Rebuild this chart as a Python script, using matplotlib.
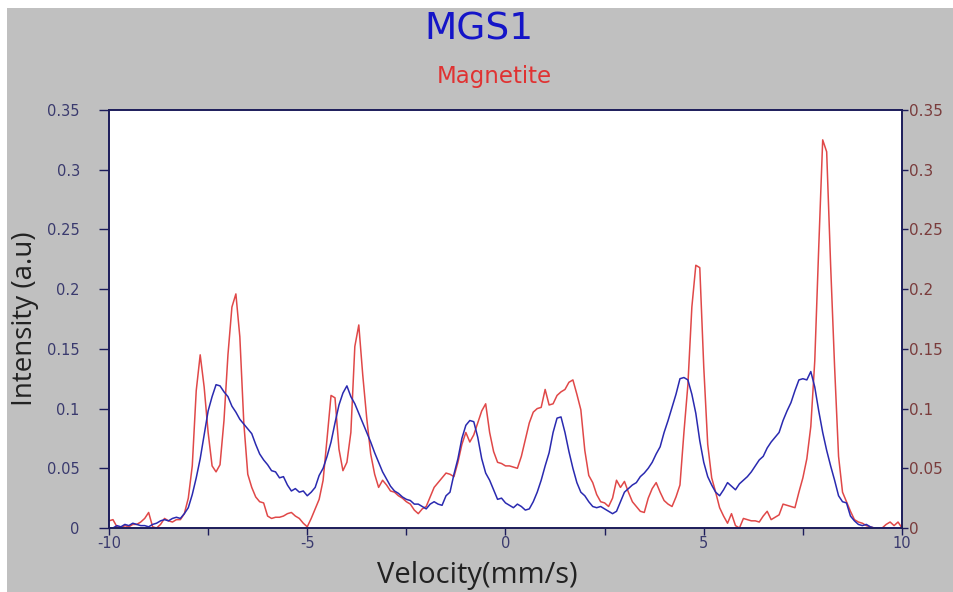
import numpy as np
import matplotlib
matplotlib.use("Agg")
import matplotlib.pyplot as plt
from matplotlib.patches import Rectangle
from matplotlib.ticker import MultipleLocator, FuncFormatter

# velocity grid, 0.1 mm/s steps from -10 to 10
velocity = np.round(np.arange(-10.0, 10.0001, 0.1), 1)

# red trace: Magnetite
magnetite = [
    0.006, 0.007, 0.001, 0.000, 0.002, 0.001, 0.003, 0.003, 0.005, 0.008,   # -10.0 .. -9.1
    0.013, 0.001, 0.000, 0.003, 0.008, 0.006, 0.005, 0.007, 0.007, 0.012,   # -9.0 .. -8.1
    0.025, 0.052, 0.115, 0.145, 0.118, 0.080, 0.052, 0.047, 0.053, 0.090,   # -8.0 .. -7.1
    0.145, 0.185, 0.196, 0.160, 0.088, 0.045, 0.034, 0.026, 0.022, 0.021,   # -7.0 .. -6.1
    0.010, 0.008, 0.009, 0.009, 0.010, 0.012, 0.013, 0.010, 0.008, 0.004,   # -6.0 .. -5.1
    0.001, 0.008, 0.016, 0.024, 0.040, 0.075, 0.111, 0.109, 0.066, 0.048,   # -5.0 .. -4.1
    0.055, 0.080, 0.152, 0.170, 0.128, 0.092, 0.062, 0.045, 0.034, 0.040,   # -4.0 .. -3.1
    0.036, 0.031, 0.030, 0.027, 0.025, 0.022, 0.020, 0.015, 0.012, 0.016,   # -3.0 .. -2.1
    0.018, 0.026, 0.034, 0.038, 0.042, 0.046, 0.045, 0.043, 0.055, 0.070,   # -2.0 .. -1.1
    0.080, 0.072, 0.078, 0.088, 0.098, 0.104, 0.080, 0.064, 0.055, 0.054,   # -1.0 .. -0.1
    0.052, 0.052, 0.051, 0.050, 0.060, 0.074, 0.088, 0.097, 0.100, 0.101,   # 0.0 .. 0.9
    0.116, 0.103, 0.104, 0.111, 0.114, 0.116, 0.122, 0.124, 0.112, 0.099,   # 1.0 .. 1.9
    0.065, 0.044, 0.038, 0.028, 0.022, 0.021, 0.018, 0.025, 0.040, 0.034,   # 2.0 .. 2.9
    0.039, 0.030, 0.022, 0.018, 0.014, 0.013, 0.025, 0.033, 0.038, 0.030,   # 3.0 .. 3.9
    0.023, 0.020, 0.018, 0.026, 0.036, 0.080, 0.120, 0.185, 0.220, 0.218,   # 4.0 .. 4.9
    0.135, 0.070, 0.042, 0.030, 0.017, 0.010, 0.004, 0.012, 0.002, 0.000,   # 5.0 .. 5.9
    0.008, 0.007, 0.006, 0.006, 0.005, 0.010, 0.014, 0.007, 0.009, 0.011,   # 6.0 .. 6.9
    0.020, 0.019, 0.018, 0.017, 0.030, 0.042, 0.058, 0.085, 0.140, 0.235,   # 7.0 .. 7.9
    0.325, 0.315, 0.220, 0.135, 0.060, 0.030, 0.022, 0.014, 0.007, 0.005,   # 8.0 .. 8.9
    0.004, 0.002, 0.001, 0.000, 0.000, 0.000, 0.003, 0.005, 0.002, 0.005,   # 9.0 .. 9.9
    0.000,                                                                  # 10.0
]

# blue trace: MGS1
mgs1 = [
    0.000, 0.000, 0.002, 0.001, 0.003, 0.002, 0.004, 0.003, 0.002, 0.002,
    0.001, 0.003, 0.004, 0.006, 0.007, 0.006, 0.008, 0.009, 0.008, 0.012,
    0.017, 0.028, 0.042, 0.058, 0.078, 0.098, 0.110, 0.120, 0.119, 0.114,
    0.110, 0.102, 0.097, 0.091, 0.087, 0.083, 0.079, 0.070, 0.062, 0.057,
    0.053, 0.048, 0.047, 0.042, 0.043, 0.036, 0.031, 0.033, 0.030, 0.031,
    0.027, 0.030, 0.034, 0.044, 0.050, 0.060, 0.072, 0.088, 0.103, 0.113,
    0.119, 0.110, 0.104, 0.096, 0.088, 0.080, 0.072, 0.063, 0.055, 0.047,
    0.041, 0.035, 0.031, 0.029, 0.026, 0.024, 0.023, 0.020, 0.020, 0.018,
    0.016, 0.020, 0.022, 0.020, 0.019, 0.027, 0.030, 0.045, 0.058, 0.075,
    0.086, 0.090, 0.089, 0.076, 0.058, 0.046, 0.040, 0.032, 0.024, 0.025,
    0.021, 0.019, 0.017, 0.020, 0.018, 0.015, 0.016, 0.022, 0.030, 0.040,
    0.052, 0.063, 0.080, 0.092, 0.093, 0.080, 0.064, 0.050, 0.038, 0.030,
    0.027, 0.022, 0.018, 0.017, 0.018, 0.016, 0.014, 0.012, 0.014, 0.022,
    0.030, 0.033, 0.036, 0.038, 0.043, 0.046, 0.050, 0.055, 0.062, 0.068,
    0.080, 0.090, 0.101, 0.112, 0.125, 0.126, 0.124, 0.112, 0.096, 0.073,
    0.055, 0.043, 0.036, 0.030, 0.027, 0.032, 0.038, 0.035, 0.032, 0.037,
    0.040, 0.043, 0.047, 0.052, 0.057, 0.060, 0.067, 0.072, 0.076, 0.080,
    0.090, 0.098, 0.105, 0.115, 0.124, 0.125, 0.124, 0.131, 0.118, 0.098,
    0.080, 0.065, 0.052, 0.040, 0.027, 0.022, 0.021, 0.010, 0.006, 0.003,
    0.002, 0.003, 0.001, 0.000, 0.000, 0.000, 0.000, 0.000, 0.000, 0.000,
    0.000,
]

y_ticks = [0, 0.05, 0.1, 0.15, 0.2, 0.25, 0.3, 0.35]
x_ticks = [-10, -5, 0, 5, 10]

axis_col = "#1c1c5a"
left_lab = "#3a3a6e"
right_lab = "#7a3c3c"
tick_font = "DejaVu Sans"

fig = plt.figure(figsize=(9.54, 5.92), dpi=100, facecolor="white")
fig.patches.append(Rectangle((7 / 954, 0), 1, 1 - 8 / 592, transform=fig.transFigure,
                             facecolor="#c0c0c0", edgecolor="none", zorder=-10))

ax = fig.add_axes([109 / 954, 64 / 592, 793 / 954, 418 / 592])
ax.set_facecolor("white")
ax.plot(velocity, mgs1, color="#2a2ab0", lw=1.1, zorder=3)
ax.plot(velocity, magnetite, color="#e04848", lw=1.1, zorder=2)

ax.set_xlim(-10, 10)
ax.set_ylim(0, 0.35)
ax.set_xticks(x_ticks)
ax.xaxis.set_minor_locator(MultipleLocator(2.5))
ax.xaxis.set_major_formatter(FuncFormatter(lambda v, p: f"{v:g}"))
ax.set_yticks(y_ticks)
fmt = FuncFormatter(lambda v, p: "0" if v == 0 else f"{v:g}")
ax.yaxis.set_major_formatter(fmt)

for s in ax.spines.values():
    s.set_color(axis_col)
    s.set_linewidth(1.2)

ax.tick_params(axis="both", which="both", direction="out", color=axis_col,
               labelsize=10.5, labelcolor=left_lab, width=1,
               labelfontfamily=tick_font)
ax.tick_params(axis="x", which="major", length=5, pad=1)
ax.tick_params(axis="x", which="minor", length=5)
ax.tick_params(axis="y", length=7, pad=14)

ax2 = ax.twinx()
ax2.set_ylim(0, 0.35)
ax2.set_yticks(y_ticks)
ax2.yaxis.set_major_formatter(fmt)
ax2.tick_params(axis="y", direction="out", color=axis_col, labelsize=11,
                labelcolor=right_lab, length=4, width=1, pad=1,
                labelfontfamily=tick_font)
for s in ax2.spines.values():
    s.set_color(axis_col)
    s.set_linewidth(1.2)

ax.set_xlabel("Velocity(mm/s)", fontsize=21, family="Open Sans", color="#222222")
ax.xaxis.set_label_coords((477 - 109) / 793, -0.08)
ax.set_ylabel("Intensity (a.u)", fontsize=20, family="Open Sans", color="#222222")
ax.yaxis.set_label_coords(-(109 - 39) / 793, 0.5)

fig.text(479 / 954, 1 - 30 / 592, "MGS1", ha="center", va="center", fontsize=27,
         family="DejaVu Sans", color="#1414c8")
fig.text(494 / 954, 1 - 77 / 592, "Magnetite", ha="center", va="center", fontsize=16.5,
         family="DejaVu Sans", color="#e03232")

fig.savefig("out.png", dpi=100, facecolor=fig.get_facecolor())
